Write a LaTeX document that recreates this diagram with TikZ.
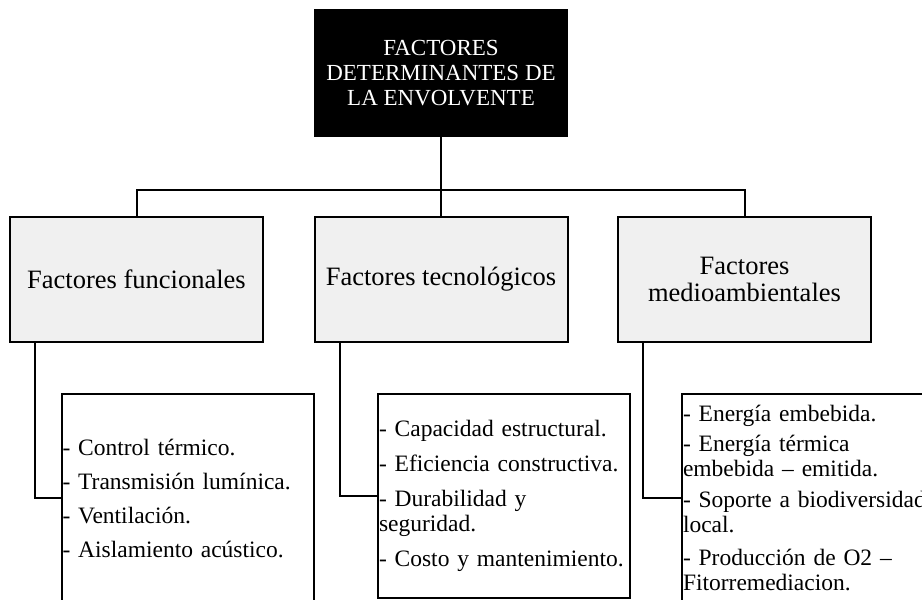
\documentclass[tikz,border=0pt]{standalone}
\usepackage{fontspec}
\setmainfont{Liberation Serif}
\begin{document}
\begin{tikzpicture}[x=1pt, y=-1pt,
    link/.style={line width=2pt},
    titlebox/.style={fill=black, text=white, align=center, minimum width=254pt, minimum height=128pt, inner sep=2pt, font=\fontsize{23}{25}\selectfont},
    factorbox/.style={draw, line width=2pt, fill=black!6, align=center, minimum width=253pt, minimum height=125pt, inner sep=2pt, font=\fontsize{26.5}{27}\selectfont},
    listbox/.style={draw, line width=2pt, fill=white, align=left, text width=250pt, inner xsep=1pt, inner ysep=0pt, font=\fontsize{23.5}{25}\selectfont}
]
    % Canvas
    \useasboundingbox (0,0) rectangle (922,600);
    \clip (0,0) rectangle (922,600);
    
    % Title
    \node[titlebox] (title) at (441,73) {FACTORES\\DETERMINANTES DE\\LA ENVOLVENTE};
    
    % Factor boxes
    \node[factorbox] (ffun) at (136.5,279.5) {Factores funcionales};
    \node[factorbox] (ftec) at (441,279.5) {Factores tecnológicos};
    \node[factorbox] (fmed) at (744.5,279.5) {Factores\\medioambientales};
    
    % List boxes
    \node[listbox, minimum height=208pt] (lfun) at (187.5,498) {- Control térmico.\\[9pt]
        - Transmisión lumínica.\\[9pt]
        - Ventilación.\\[9pt]
        - Aislamiento acústico.};
    \node[listbox, minimum height=204pt] (ltec) at (504,496) {- Capacidad estructural.\\[10pt]
        - Eficiencia constructiva.\\[10pt]
        - Durabilidad y\\seguridad.\\[10pt]
        - Costo y mantenimiento.};
    \node[listbox, minimum height=208pt] (lmed) at (808,498) {- Energía embebida.\\[5pt]
        - Energía térmica\\embebida – emitida.\\[6pt]
        - Soporte a biodiversidad\\local.\\[8pt]
        - Producción de O2 –\\Fitorremediacion.};
    
    % Connectors
    \coordinate (bus) at (441,190);
    \draw[link] (title.south) -- (ftec.north);
    \draw[link] (ffun.north) |- (bus) -| (fmed.north);
    \draw[link] ([xshift=26pt]ffun.south west) |- (lfun.west);
    \draw[link] ([xshift=26pt]ftec.south west) |- (ltec.west);
    \draw[link] ([xshift=26pt]fmed.south west) |- (lmed.west);
\end{tikzpicture}
\end{document}
